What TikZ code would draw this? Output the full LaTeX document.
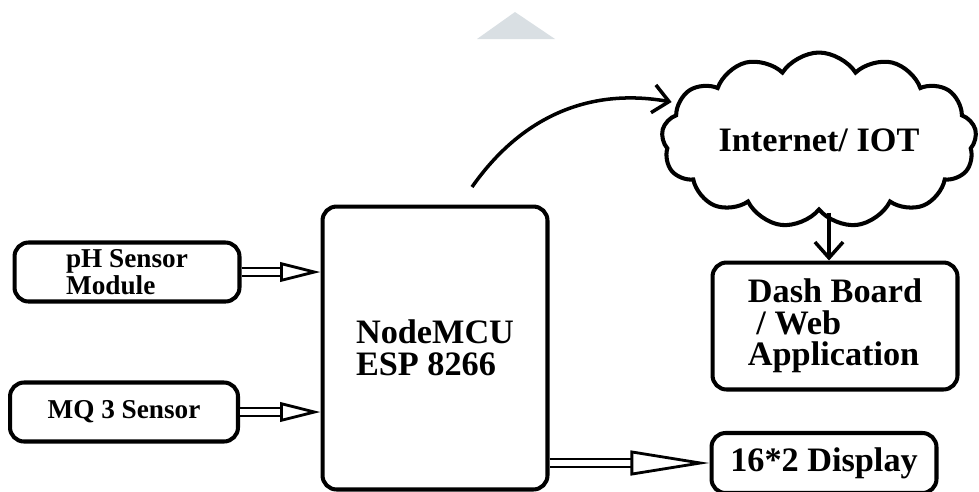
\documentclass[tikz,border=0pt]{standalone}
\usepackage{fontspec}
\setmainfont{Liberation Serif}
\usetikzlibrary{arrows.meta,shapes.symbols}

\begin{document}
\begin{tikzpicture}[x=0.02cm, y=-0.02cm]
        % styles
        \tikzstyle{block}=[draw, line width=2.3pt, rounded corners=8pt, align=left, font=\bfseries\fontsize{19.5}{18}\selectfont]
        \tikzstyle{small}=[font=\bfseries\fontsize{15.5}{14}\selectfont]
        \tikzstyle{dbl}=[double distance=3pt, line width=1.6pt, -{Triangle[open, length=23pt, width=11pt]}]
        \tikzstyle{flow}=[line width=2pt, -{Straight Barb[length=9pt, width=16pt]}]

        \useasboundingbox (0,0) rectangle (979,491);

        % top marker
        \fill[fill={rgb,255:red,217;green,223;blue,227}] (477,39) -- (515,12) -- (555,39) -- cycle;

        % blocks
        \node[block, small, minimum width=4.5cm, minimum height=1.18cm] (ph) at (127,272) {pH Sensor\\Module};
        \node[block, small, minimum width=4.56cm, minimum height=1.18cm] (mq) at (124,412) {MQ 3 Sensor};
        \node[block, minimum width=4.5cm, minimum height=5.66cm] (mcu) at (435,348) {NodeMCU\\ESP 8266};
        \node[block, cloud, cloud puffs=13, cloud puff arc=115, cloud ignores aspect, rounded corners=0pt, minimum width=6.3cm, minimum height=3.5cm] (iot) at (819,140) {Internet/ IOT};
        \node[block, minimum width=4.9cm, minimum height=2.54cm] (dash) at (835,326) {Dash Board\\\ / Web\\Application};
        \node[block, minimum width=4.5cm, minimum height=1.2cm] (disp) at (824,463) {16*2 Display};
        \coordinate (up) at (472,187);

        % links
        \draw[dbl] (ph.east) -- (ph.east -| mcu.west);
        \draw[dbl] (mq.east) -- (mq.east -| mcu.west);
        \draw[dbl, -{Triangle[open, length=45pt, width=14pt]}] (disp.west -| mcu.east) -- (disp.west);
        \draw[flow] (up) to[out=55, in=170] ([xshift=0.22cm, yshift=0.76cm]iot.west);
        \draw[flow] ([xshift=-0.12cm]dash.north |- iot.south) -- ([xshift=-0.12cm]dash.north);
    \end{tikzpicture}
\end{document}
